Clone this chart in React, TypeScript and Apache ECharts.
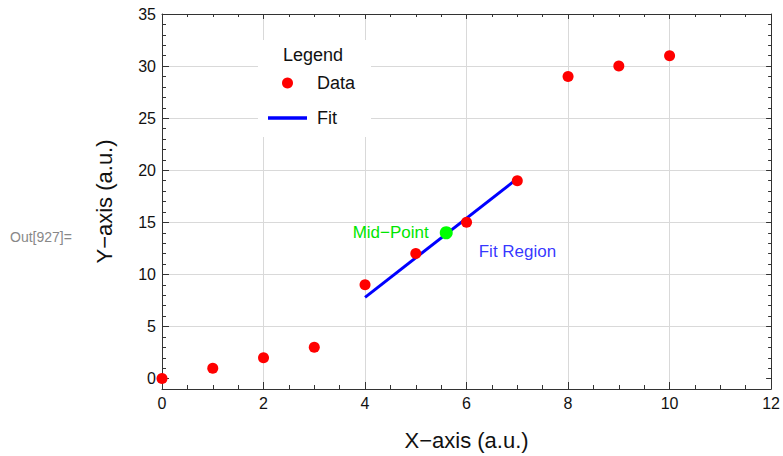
import React, { useEffect, useRef } from "react";
import * as echarts from "echarts";

const xData = [0, 1, 2, 3, 4, 5, 6, 7, 8, 9, 10];
const yData = [0, 1, 2, 3, 9, 12, 15, 19, 29, 30, 31];
const fitLine = [
  [4, 7.8],
  [7, 19.2],
];
const midPoint = [5.6, 14];
const fitRegionAnchor = [6.24, 12.2];
const xTicks = [0, 2, 4, 6, 8, 10, 12];
const yTicks = [0, 5, 10, 15, 20, 25, 30, 35];
const xRange = [0, 12];
const yRange = [-1, 35];

const FONT = "'Liberation Sans', Arial, sans-serif";
const AXIS_COLOR = "#333";
const GRID_COLOR = "#d9d9d9";

export default function App() {
  const ref = useRef<HTMLDivElement>(null);

  useEffect(() => {
    if (!ref.current) return;
    const chart = echarts.init(ref.current, undefined, { renderer: "svg" });

    const baseX = (position: "bottom" | "top", major: number, minor: number, labels: boolean) => ({
      type: "value",
      position,
      min: xRange[0],
      max: xRange[1],
      interval: xTicks[1] - xTicks[0],
      axisLine: { show: true, onZero: false, lineStyle: { color: AXIS_COLOR, width: 1 } },
      axisTick: { show: true, inside: true, length: major, lineStyle: { color: AXIS_COLOR } },
      minorTick: { show: true, splitNumber: 4, length: minor, lineStyle: { color: AXIS_COLOR } },
      axisLabel: {
        show: labels,
        fontSize: 16,
        color: "#111",
        fontFamily: FONT,
        margin: 6,
      },
      splitLine: { show: labels, lineStyle: { color: GRID_COLOR, width: 1 } },
      ...(labels
        ? {
            name: "X\u2212axis (a.u.)",
            nameLocation: "middle",
            nameGap: 40,
            nameTextStyle: { fontSize: 22, color: "#111", fontFamily: FONT },
          }
        : {}),
    });

    const yMajor = (position: "left" | "right", len: number, labels: boolean) => ({
      type: "value",
      position,
      min: yRange[0],
      max: yRange[1],
      axisLine: { show: true, onZero: false, lineStyle: { color: AXIS_COLOR, width: 1 } },
      axisTick: { show: true, inside: true, length: len, customValues: yTicks, lineStyle: { color: AXIS_COLOR } },
      axisLabel: {
        show: labels,
        customValues: yTicks,
        fontSize: 16,
        color: "#111",
        fontFamily: FONT,
        margin: 6,
      },
      splitLine: {
        show: labels,
        lineStyle: { color: yTicks.map((v) => (v === 0 ? "rgba(0,0,0,0)" : GRID_COLOR)), width: 1 },
      },
      ...(labels
        ? {
            name: "Y\u2212axis (a.u.)",
            nameLocation: "middle",
            nameGap: 47,
            nameTextStyle: { fontSize: 22, color: "#111", fontFamily: FONT },
          }
        : {}),
    });

    const yMinor = (position: "left" | "right", len: number) => ({
      type: "value",
      position,
      min: yRange[0],
      max: yRange[1],
      interval: 1,
      axisLine: { show: false, onZero: false },
      axisTick: { show: true, inside: true, length: len, lineStyle: { color: AXIS_COLOR } },
      axisLabel: { show: false },
      splitLine: { show: false },
    });

    chart.setOption({
      animation: false,
      backgroundColor: "#fff",
      textStyle: { fontFamily: FONT },
      grid: { left: 162, right: 11, top: 14, bottom: 65, containLabel: false },
      xAxis: [baseX("bottom", 7, 4, true), baseX("top", 5, 3, false)],
      yAxis: [yMajor("left", 7, true), yMajor("right", 5, false), yMinor("left", 4), yMinor("right", 3)],
      legend: {
        show: true,
        orient: "vertical",
        left: 258,
        top: 40,
        padding: [33, 16, 9, 10],
        backgroundColor: "#ffffff",
        itemWidth: 39,
        itemHeight: 11,
        itemGap: 15,
        selectedMode: false,
        formatter: " {name}",
        textStyle: { fontSize: 18, lineHeight: 20, color: "#111", fontFamily: FONT },
        data: [
          { name: "Data", icon: "circle" },
          { name: "Fit", icon: "path://M0,0H39V3.5H0Z" },
        ],
      },
      graphic: [
        {
          type: "text",
          left: 10,
          top: 230,
          style: { text: "Out[927]=", fontSize: 14, fill: "#888", fontFamily: FONT },
        },
        {
          type: "text",
          x: 313,
          y: 55,
          z: 100,
          style: {
            text: "Legend",
            fontSize: 18,
            fill: "#111",
            fontFamily: FONT,
            align: "center",
            verticalAlign: "middle",
          },
        },
      ],
      series: [
        {
          name: "Fit",
          type: "line",
          data: fitLine,
          symbol: "none",
          lineStyle: { color: "#0000ff", width: 3 },
          itemStyle: { color: "#0000ff" },
          z: 2,
        },
        {
          name: "Data",
          type: "scatter",
          data: xData.map((x, i) => [x, yData[i]]),
          symbol: "circle",
          symbolSize: 11,
          itemStyle: { color: "#ff0000", opacity: 1 },
          z: 3,
        },
        {
          name: "Mid-Point",
          type: "scatter",
          data: [midPoint],
          symbol: "circle",
          symbolSize: 13,
          itemStyle: { color: "#00ff00", opacity: 1 },
          label: {
            show: true,
            position: "left",
            distance: 11,
            formatter: "Mid\u2212Point",
            color: "#00e600",
            fontSize: 17,
            fontFamily: FONT,
          },
          z: 4,
        },
        {
          name: "Fit Region",
          type: "scatter",
          data: [fitRegionAnchor],
          symbolSize: 0,
          itemStyle: { color: "rgba(0,0,0,0)" },
          label: {
            show: true,
            position: [0, 0],
            align: "left",
            verticalAlign: "middle",
            formatter: "Fit Region",
            color: "#0000ff",
            fontSize: 17,
            fontFamily: FONT,
          },
          silent: true,
          z: 4,
        },
      ],
    });

    return () => chart.dispose();
  }, []);

  return (
    <div
      ref={ref}
      style={{ position: "absolute", left: 0, top: 0, width: 783, height: 456 }}
    />
  );
}
